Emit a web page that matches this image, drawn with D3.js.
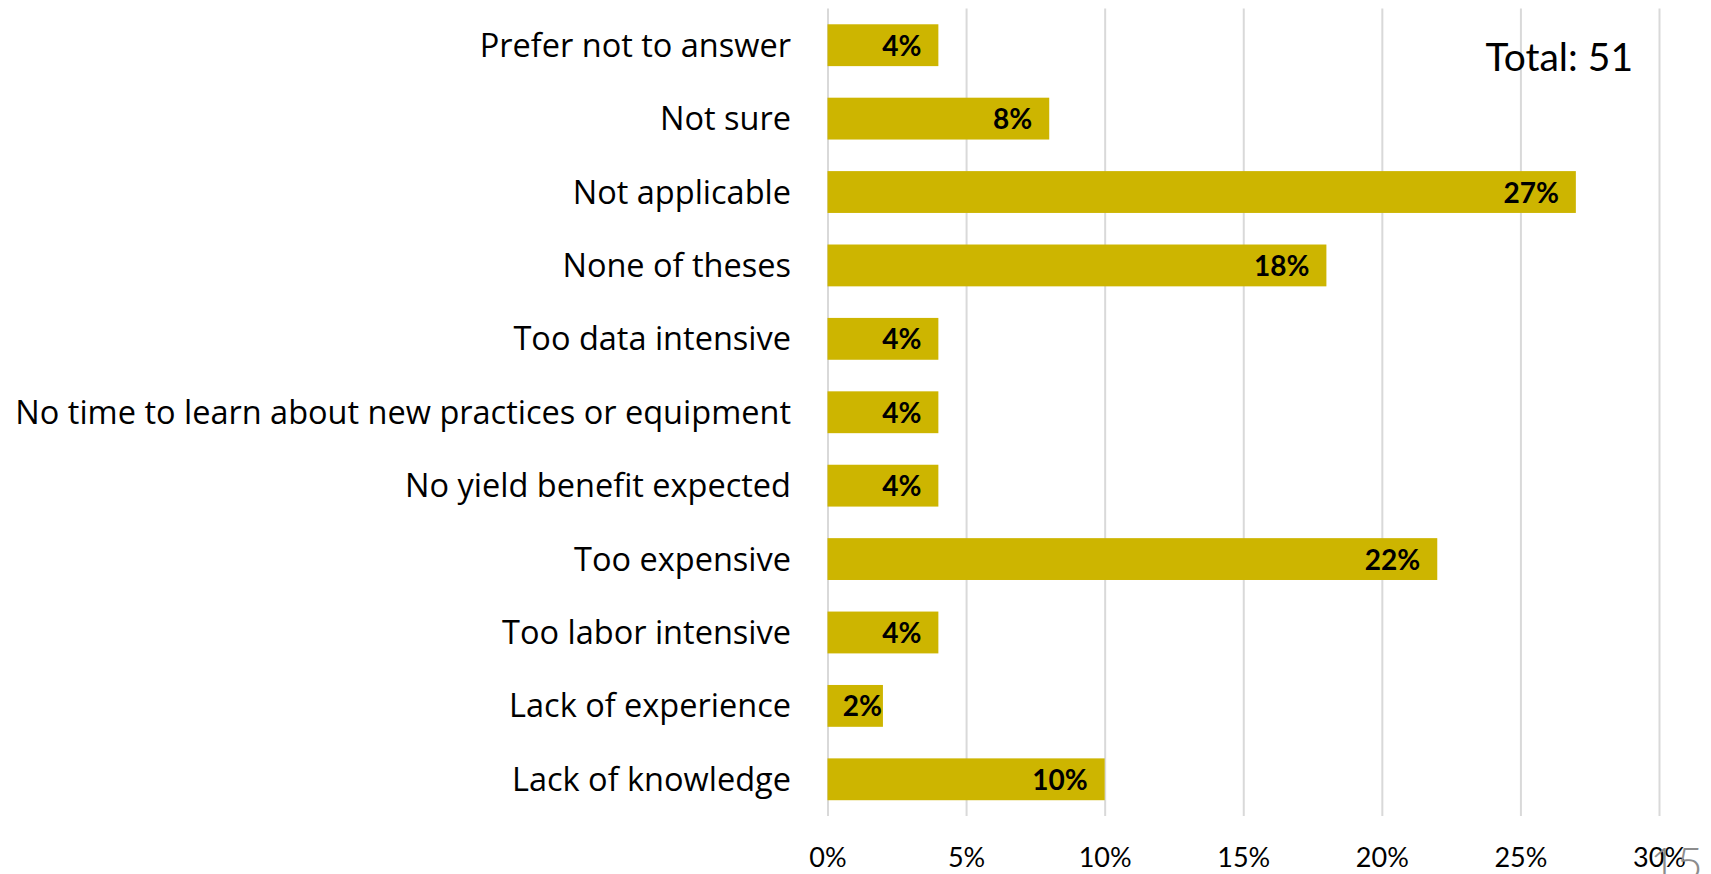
<!DOCTYPE html>
<html>
<head>
<meta charset="utf-8">
<script src="https://cdn.jsdelivr.net/npm/d3@7"></script>
<style>
  html, body { margin: 0; padding: 0; background: #fff; overflow: hidden; }
  svg { display: block; }
  text { font-family: Lato, "Open Sans", sans-serif; }
</style>
</head>
<body>
<svg id="chart" width="1711" height="874"></svg>
<script>
// Reasons listed top to bottom, with the share of respondents (%)
const categories = [
  "Prefer not to answer",
  "Not sure",
  "Not applicable",
  "None of theses",
  "Too data intensive",
  "No time to learn about new practices or equipment",
  "No yield benefit expected",
  "Too expensive",
  "Too labor intensive",
  "Lack of experience",
  "Lack of knowledge"
];
const shares = [4, 8, 27, 18, 4, 4, 4, 22, 4, 2, 10];
const tickValues = [0, 5, 10, 15, 20, 25, 30];
const totalLabel = "Total: 51";
const slideNumber = "15";

const svg = d3.select("#chart");

const plot = { left: 827.5, right: 1659, top: 8.5, bottom: 816 };

const x = d3.scaleLinear().domain([0, 30]).range([plot.left, plot.right]);
const y = d3.scaleBand()
  .domain(categories)
  .range([plot.top, plot.bottom])
  .paddingInner(0.43)
  .paddingOuter(0.215);

// Vertical gridlines and percentage tick labels
const axis = d3.axisBottom(x)
  .tickValues(tickValues)
  .tickSize(-(plot.bottom - plot.top))
  .tickFormat(d => d + "%");

const gAxis = svg.append("g")
  .attr("transform", `translate(0,${plot.bottom})`)
  .call(axis);
gAxis.select(".domain").remove();
gAxis.selectAll(".tick line")
  .attr("stroke", "#d9d9d9")
  .attr("stroke-width", 2);
gAxis.selectAll(".tick text")
  .attr("y", 51)
  .attr("dy", null)
  .attr("fill", "#000")
  .style("font-size", "27px")
  .style("font-family", "Lato, sans-serif");

// Bars
svg.append("g")
  .selectAll("rect")
  .data(shares)
  .join("rect")
  .attr("x", x(0))
  .attr("y", (d, i) => y(categories[i]))
  .attr("width", d => x(d) - x(0))
  .attr("height", y.bandwidth())
  .attr("fill", "#cdb500");

// Value labels inside bar ends; the gap to the bar end shrinks on short bars
svg.append("g")
  .selectAll("text")
  .data(shares)
  .join("text")
  .attr("y", (d, i) => y(categories[i]) + y.bandwidth() / 2 + 10.5)
  .attr("text-anchor", "end")
  .attr("font-weight", 700)
  .style("font-size", "28px")
  .attr("fill", "#000")
  .text(d => d + "%")
  .attr("x", function (d) {
    const barW = x(d) - x(0);
    const textW = this.getComputedTextLength();
    const gap = Math.max(1, Math.min(17, barW - textW - 16));
    return x(d) - gap;
  });

// Category labels
svg.append("g")
  .selectAll("text")
  .data(categories)
  .join("text")
  .attr("x", 791)
  .attr("y", d => y(d) + y.bandwidth() / 2 + 11.5)
  .attr("text-anchor", "end")
  .style("font-size", "32.5px")
  .style("font-family", "'Open Sans', sans-serif")
  .attr("fill", "#000")
  .text(d => d);

// Respondent count
svg.append("text")
  .attr("x", 1633)
  .attr("y", 71)
  .attr("text-anchor", "end")
  .style("font-size", "39px")
  .attr("fill", "#000")
  .text(totalLabel);

// Slide number, partly cut off at the bottom edge
svg.append("text")
  .attr("x", 1703)
  .attr("y", 880)
  .attr("text-anchor", "end")
  .attr("font-weight", 300)
  .style("font-size", "46px")
  .attr("fill", "#8c8c8c")
  .text(slideNumber);
</script>
</body>
</html>
